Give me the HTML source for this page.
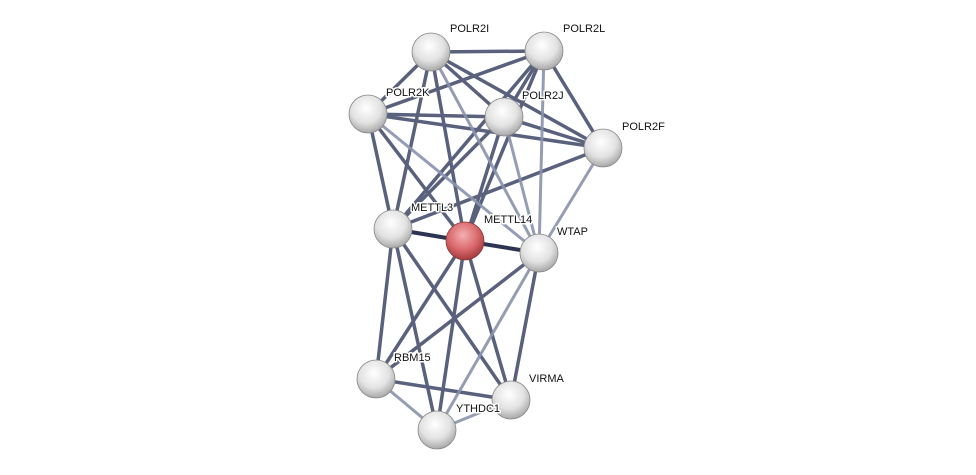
<!DOCTYPE html>
<html><head><meta charset="utf-8"><style>
html,body{margin:0;padding:0;background:#fff;}
svg{display:block;}
text{font-family:"Liberation Sans",sans-serif;font-size:11px;fill:#111;stroke:#fff;stroke-width:3px;paint-order:stroke;stroke-linejoin:round;}
</style></head><body>
<svg width="976" height="475" viewBox="0 0 976 475" xmlns="http://www.w3.org/2000/svg">
<defs>
<radialGradient id="g" cx="45%" cy="35%" r="65%">
<stop offset="0" stop-color="#ffffff"/><stop offset="0.6" stop-color="#e2e2e2"/><stop offset="1" stop-color="#a8a8a8"/>
</radialGradient>
<radialGradient id="r" cx="45%" cy="35%" r="65%">
<stop offset="0" stop-color="#f4b0b0"/><stop offset="0.6" stop-color="#d9686c"/><stop offset="1" stop-color="#a23a3e"/>
</radialGradient>
</defs>
<g stroke-linecap="round" fill="none">
<g stroke="#434c6c" stroke-width="3.5" opacity="0.88">
<line x1="431" y1="52" x2="544" y2="51"/>
<line x1="431" y1="52" x2="368" y2="114"/>
<line x1="431" y1="52" x2="504" y2="117"/>
<line x1="431" y1="52" x2="603" y2="148"/>
<line x1="431" y1="52" x2="393" y2="229"/>
<line x1="431" y1="52" x2="465" y2="241"/>
<line x1="544" y1="51" x2="368" y2="114"/>
<line x1="544" y1="51" x2="504" y2="117"/>
<line x1="544" y1="51" x2="603" y2="148"/>
<line x1="544" y1="51" x2="393" y2="229"/>
<line x1="544" y1="51" x2="465" y2="241"/>
<line x1="368" y1="114" x2="504" y2="117"/>
<line x1="368" y1="114" x2="603" y2="148"/>
<line x1="368" y1="114" x2="393" y2="229"/>
<line x1="368" y1="114" x2="465" y2="241"/>
<line x1="504" y1="117" x2="603" y2="148"/>
<line x1="504" y1="117" x2="393" y2="229"/>
<line x1="504" y1="117" x2="465" y2="241"/>
<line x1="603" y1="148" x2="393" y2="229"/>
<line x1="393" y1="229" x2="376" y2="379"/>
<line x1="393" y1="229" x2="437" y2="430"/>
<line x1="393" y1="229" x2="511" y2="400"/>
<line x1="465" y1="241" x2="376" y2="379"/>
<line x1="465" y1="241" x2="437" y2="430"/>
<line x1="465" y1="241" x2="511" y2="400"/>
<line x1="539" y1="253" x2="376" y2="379"/>
<line x1="539" y1="253" x2="511" y2="400"/>
<line x1="376" y1="379" x2="511" y2="400"/>
</g>
<g stroke="#8a93ae" stroke-width="3" opacity="0.9">
<line x1="431" y1="52" x2="539" y2="253"/>
<line x1="544" y1="51" x2="539" y2="253"/>
<line x1="368" y1="114" x2="539" y2="253"/>
<line x1="504" y1="117" x2="539" y2="253"/>
<line x1="603" y1="148" x2="539" y2="253"/>
<line x1="393" y1="229" x2="539" y2="253"/>
<line x1="539" y1="253" x2="437" y2="430"/>
<line x1="376" y1="379" x2="437" y2="430"/>
<line x1="437" y1="430" x2="511" y2="400"/>
</g>
<g stroke="#2c3452" stroke-width="4">
<line x1="393" y1="229" x2="465" y2="241"/>
<line x1="465" y1="241" x2="539" y2="253"/>
</g>
</g>
<g stroke="#888" stroke-width="0.8">
<circle cx="431" cy="52" r="19" fill="url(#g)"/>
<circle cx="544" cy="51" r="19" fill="url(#g)"/>
<circle cx="368" cy="114" r="19" fill="url(#g)"/>
<circle cx="504" cy="117" r="19" fill="url(#g)"/>
<circle cx="603" cy="148" r="19" fill="url(#g)"/>
<circle cx="393" cy="229" r="19" fill="url(#g)"/>
<circle cx="465" cy="241" r="19" fill="url(#r)" stroke="#8a3a3a"/>
<circle cx="539" cy="253" r="19" fill="url(#g)"/>
<circle cx="376" cy="379" r="19" fill="url(#g)"/>
<circle cx="511" cy="400" r="19" fill="url(#g)"/>
<circle cx="437" cy="430" r="19" fill="url(#g)"/>
</g>
<text x="450" y="32">POLR2I</text>
<text x="563" y="32">POLR2L</text>
<text x="386" y="96">POLR2K</text>
<text x="522" y="99">POLR2J</text>
<text x="622" y="130">POLR2F</text>
<text x="411" y="211">METTL3</text>
<text x="484" y="223">METTL14</text>
<text x="557" y="235">WTAP</text>
<text x="394" y="361">RBM15</text>
<text x="529" y="382">VIRMA</text>
<text x="456" y="412">YTHDC1</text>
</svg>
</body></html>
